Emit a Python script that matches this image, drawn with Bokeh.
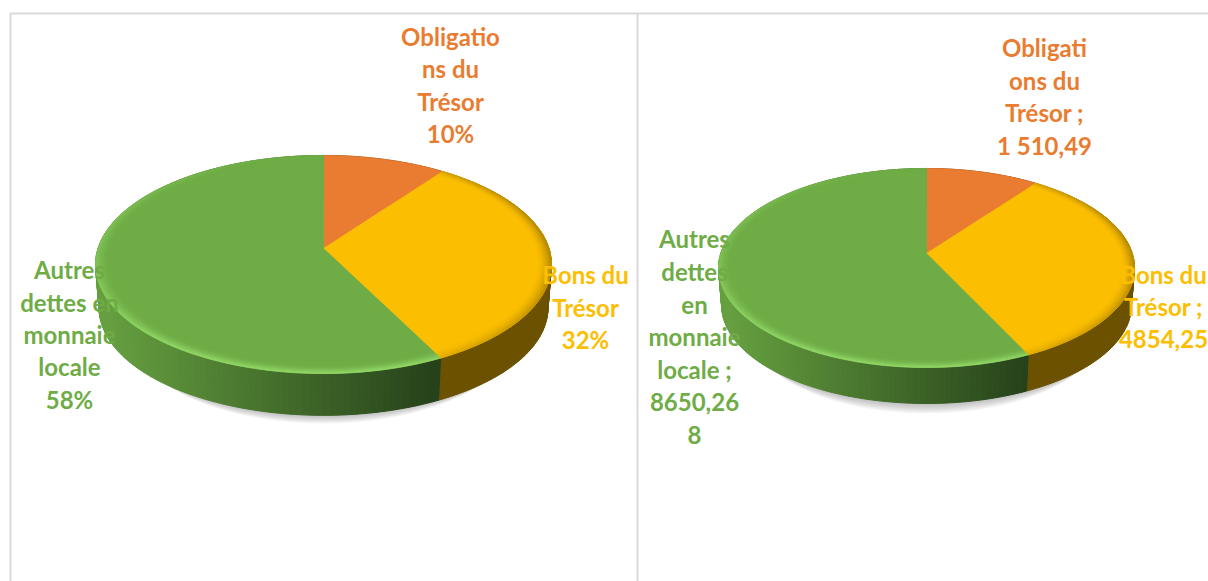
import math
from bokeh.plotting import figure
from bokeh.models import Range1d
from bokeh.core.properties import value
from bokeh.embed import file_html
from bokeh.resources import INLINE

categories = ["Obligations du Trésor", "Bons du Trésor", "Autres dettes en monnaie locale"]
shares_pct = [10, 32, 58]
amounts = [1510.49, 4854.25, 8650.268]
colors = ["#E97C30", "#FBBE00", "#6FAC46"]

labels_left = [["Obligatio", "ns du", "Trésor", "10%"],
               ["Bons du", "Trésor", "32%"],
               ["Autres", "dettes en", "monnaie", "locale", "58%"]]
labels_right = [["Obligati", "ons du", "Trésor ;", "1 510,49"],
                ["Bons du", "Trésor ;", "4854,25"],
                ["Autres", "dettes", "en", "monnaie", "locale ;", "8650,26", "8"]]

W, H = 1208, 581
p = figure(width=W, height=H, output_backend="svg", toolbar_location=None,
           x_range=Range1d(0, W), y_range=Range1d(H, 0),
           min_border=0, outline_line_color=None)
p.axis.visible = False
p.grid.visible = False
p.background_fill_color = "white"


def mix(a, b, t):
    t = max(0.0, min(1.0, t))
    ca = [int(a[i:i + 2], 16) for i in (1, 3, 5)]
    cb = [int(b[i:i + 2], 16) for i in (1, 3, 5)]
    return "#%02x%02x%02x" % tuple(round(x + (y - x) * t) for x, y in zip(ca, cb))


def pie(vals, geom, label_lines, label_pos):
    cx, cy, R, S, k, depth = geom
    total = sum(vals)
    edges = [0.0]
    for v in vals:
        edges.append(edges[-1] + 360.0 * v / total)

    def pt(deg, r=1.0, dy=0.0):
        # small angular correction imitating the view's foreshortening
        t = math.radians(deg)
        t = t + math.radians(2.1) * (1 - math.cos(t)) / 2
        u, v = r * math.sin(t), r * math.cos(t)
        w = 1 + k * v
        return cx + R * u / w, cy - S * v / w + dy

    def sl(a, b, n=None):
        n = n or max(2, int((b - a) / 1.5))
        return [a + (b - a) * i / n for i in range(n + 1)]

    # soft shadow
    xs, ys = [], []
    for i in range(12):
        pts = [pt(d, 0.975 - 0.012 * i, depth + 1 + 2.5 * i) for d in sl(0, 360, 120)]
        xs.append([q[0] for q in pts])
        ys.append([q[1] for q in pts])
    xs.reverse(); ys.reverse()
    p.patches(xs, ys, fill_color="#7f7f7f", fill_alpha=0.05, line_color=None)

    # side wall, one small facet per step
    step = 1.5
    xs, ys, cs = [], [], []
    for idx in range(3):
        a, b = edges[idx], edges[idx + 1]
        for d in sl(a, b, max(2, int((b - a) / step))):
            d2 = min(b, d + step)
            if d2 <= d:
                continue
            x1, y1 = pt(d); x2, y2 = pt(d2)
            x3, y3 = pt(d2, 0.985, depth); x4, y4 = pt(d, 0.985, depth)
            f = ((x1 + x2) / 2 - (cx - R)) / (2 * R)
            if idx == 2:
                c = mix("#659f3f", "#26421a", (f - 0.02) / 0.72)
            elif idx == 1:
                c = "#6b5100"
            else:
                c = "#8a4c1d"
            xs.append([x1, x2, x3, x4])
            ys.append([y1, y2, y3, y4])
            cs.append(c)
    p.patches(xs, ys, fill_color=cs, line_color=cs, line_width=1)

    # flat top face
    xs, ys = [], []
    for idx in range(3):
        pts = [pt(d) for d in sl(edges[idx], edges[idx + 1])]
        xs.append([cx] + [q[0] for q in pts])
        ys.append([cy] + [q[1] for q in pts])
    p.patches(xs, ys, fill_color=colors, line_color=colors, line_width=0.7)

    # bevel of the top edge
    n_r = 7
    xs, ys, cs = [], [], []
    for j in range(n_r):
        r1 = 1.0 - 0.008 * j
        r2 = r1 - 0.008
        st = (1 - j / n_r) ** 1.5
        for idx in (1, 2):
            a, b = edges[idx], edges[idx + 1]
            for d in sl(a, b, max(2, int((b - a) / step))):
                d2 = min(b, d + step)
                if d2 <= d:
                    continue
                t = math.radians((d + d2) / 2)
                front = max(0.0, -math.cos(t))
                if idx == 2:
                    west = max(0.0, -math.sin(t))
                    c = mix("#6FAC46", "#93d968", st * min(1.0, 0.45 * west ** 2 + 1.1 * front ** 1.5))
                else:
                    c = mix("#FBBE00", "#7a5d00", st * 0.55 * math.sin(t) * (1 - 0.3 * front))
                p1, p2, p3, p4 = pt(d, r1), pt(d2, r1), pt(d2, r2), pt(d, r2)
                xs.append([p1[0], p2[0], p3[0], p4[0]])
                ys.append([p1[1], p2[1], p3[1], p4[1]])
                cs.append(c)
    p.patches(xs, ys, fill_color=cs, line_color=cs, line_width=0.6)

    # data labels
    for lines, (lx, lys), col in zip(label_lines, label_pos, colors):
        p.text([lx] * len(lines), lys, text=lines, text_color=col,
               text_font=value("Lato"), text_font_style="bold", text_font_size="24px",
               text_align="center", text_baseline="middle")


pie(shares_pct, (323, 248, 225.5, 106.7, 0.1468, 44), labels_left,
    [(450, [36, 68, 101, 133]), (585, [274, 307, 339]), (69, [269, 302, 334, 366, 399])])
pie(amounts, (926, 253, 205.8, 97.4, 0.1456, 38), labels_right,
    [(1044, [47, 80, 112, 145]), (1163, [274, 306, 338]), (694, [238, 271, 304, 336, 369, 401, 434])])

# chart frames
p.line([10, 10, 1208], [581, 13, 13], line_color="#d9d9d9", line_width=2)
p.line([637, 637], [13, 581], line_color="#d9d9d9", line_width=2)

open("out.html", "w").write(file_html(p, INLINE))
